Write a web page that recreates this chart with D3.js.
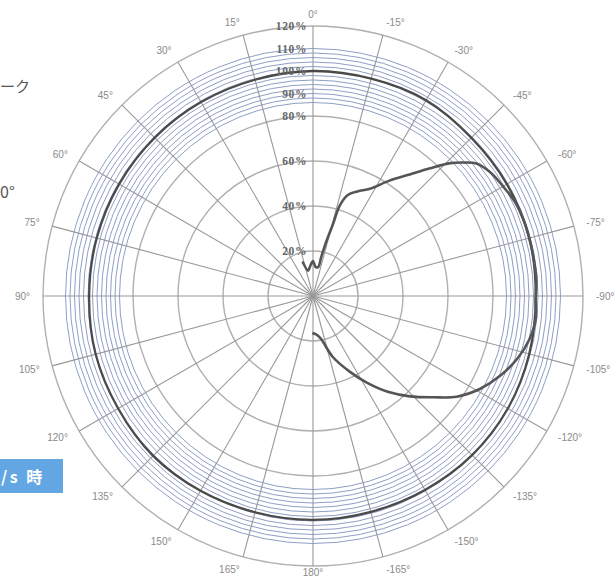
<!DOCTYPE html>
<html><head><meta charset="utf-8">
<script src="https://cdn.jsdelivr.net/npm/d3@7"></script>
<style>html,body{margin:0;padding:0;background:#fff;overflow:hidden}</style>
</head><body>
<svg id="c" width="616" height="582"></svg>
<script>
// ---- data ----
const angleTicks = [0,15,30,45,60,75,90,105,120,135,150,165,180,-165,-150,-135,-120,-105,-90,-75,-60,-45,-30,-15];
const pctTicks = [20,40,60,80,90,100,110,120];
const coarseRings = [20,40,60,80,120];
const fineRings = [86,88,90,92,94,96,98,100,102,104,106,108,110];
// near-omnidirectional pattern (angle deg CCW from top, value %)
const omniAngles = [0,15,30,45,60,75,90,105,120,135,150,165,180,195,210,225,240,255,270,285,300,315,330,345];
const omniValues = [100,99.5,99.5,99.5,99.5,99.5,99.5,100,100,100.5,100,99.5,99.5,99.3,99.5,100,100,99.5,99,99.5,99.5,99.5,100.5,100];
// directional pattern
const dirAngles = [17,11,5,0,-5,-10,-12,-13.5,-15.5,-16.5,-19,-23,-28,-33.5,-38.5,-42.5,-46,-48.5,-51,-55,-60,-65,-70,-75,-80,-86,-91,-96,-101.5,-107,-113,-119,-125,-130,-136,-142,-148,-154,-162,-170,-176,-181];
const dirValues = [16,11.5,13.5,15.5,13,13,18,24,33,42,47.5,50.5,54,61.5,69,77,85,89.5,93.5,96,97.5,99,99.5,99.5,99.5,99.5,99,99.5,98,95,90.5,85,78,70,62,54,45.5,37.5,28.5,19,17,16.5];

// ---- drawing ----
const W = 616, H = 582, cx = 313, cy = 296;
const svg = d3.select('#c');
svg.append('rect').attr('width', W).attr('height', H).attr('fill', '#fff');

const r = d3.scaleLinear().domain([0,120]).range([0,270]);
const ang = d3.scaleLinear().domain([0,360]).range([0, -2*Math.PI]); // CCW from top
const g = svg.append('g').attr('transform', `translate(${cx},${cy})`);

// fine blue rings
g.selectAll('circle.fine').data(fineRings).join('circle')
  .attr('class','fine').attr('r', d => r(d))
  .attr('fill','none').attr('stroke','#8d9fc6').attr('stroke-width',1);
// coarse gray rings
g.selectAll('circle.coarse').data(coarseRings).join('circle')
  .attr('class','coarse').attr('r', d => r(d))
  .attr('fill','none').attr('stroke','#b0b0b0').attr('stroke-width',1.4);
// spokes
g.selectAll('line.spoke').data(angleTicks).join('line')
  .attr('x1',0).attr('y1',0)
  .attr('x2', d => r(120)*Math.sin(ang(d)))
  .attr('y2', d => -r(120)*Math.cos(ang(d)))
  .attr('stroke','#999').attr('stroke-width',1.1);

// series
const omni = omniAngles.map((a,i)=>[ang(a), r(omniValues[i])]);
g.append('path').attr('d', d3.lineRadial().curve(d3.curveCardinalClosed)(omni))
  .attr('fill','none').attr('stroke','#4a4a4a').attr('stroke-width',2.3);
const dir = dirAngles.map((a,i)=>[ang(a), r(dirValues[i])]);
g.append('path').attr('d', d3.lineRadial().curve(d3.curveCatmullRom.alpha(0.5))(dir))
  .attr('fill','none').attr('stroke','#555').attr('stroke-width',2.6).attr('stroke-linejoin','round');

// percent labels
g.selectAll('text.pct').data(pctTicks).join('text')
  .attr('class','pct').attr('x',-6).attr('y', d => -r(d)).attr('dy','0.35em')
  .attr('text-anchor','end')
  .attr('font-family','Liberation Serif, serif').attr('font-weight','bold').attr('font-size',11.5)
  .attr('letter-spacing',0.6)
  .attr('fill','#666').text(d => d + '%');

// angle labels: left side end-anchored, right side start-anchored
const labR = d => (d === 180 || d === -180) ? 276 : (d === 0 ? 282 : 283);
g.selectAll('text.ang').data(angleTicks).join('text')
  .attr('class','ang')
  .attr('x', d => labR(d)*Math.sin(ang(d)))
  .attr('y', d => -labR(d)*Math.cos(ang(d)))
  .attr('dy','0.35em')
  .attr('text-anchor', d => (d === 0 || d === 180) ? 'middle' : (d > 0 ? 'end' : 'start'))
  .attr('font-family','Liberation Sans, Arial, sans-serif').attr('font-size',10)
  .attr('fill','#8a8a8a').text(d => d + '°');

// partial texts at the left edge (visible portions)
svg.append('text').attr('x',0).attr('y',92)
  .attr('font-family','Noto Sans CJK JP').attr('font-size',15).attr('fill','#555').text('ーク');
svg.append('text').attr('x',0).attr('y',198)
  .attr('font-family','Noto Sans CJK JP').attr('font-size',16).attr('fill','#555').text('0°');
svg.append('rect').attr('x',0).attr('y',459).attr('width',63).attr('height',34).attr('fill','#62a7e4');
svg.append('text').attr('x',1).attr('y',483)
  .attr('font-family','Noto Sans CJK JP').attr('font-weight','bold').attr('font-size',16)
  .attr('letter-spacing',2.5).attr('fill','#fff').text('/s 時');
</script>
</body></html>
